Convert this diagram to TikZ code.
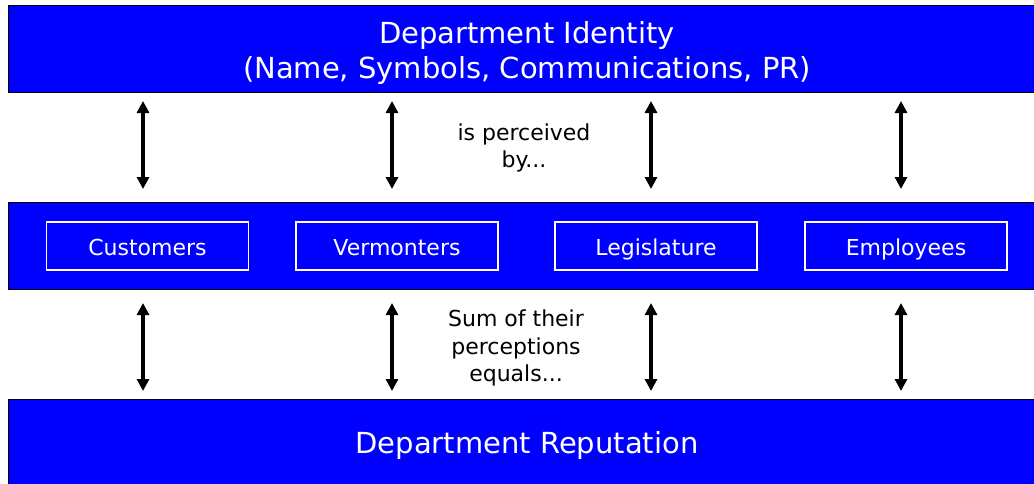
\documentclass[tikz,border=0pt]{standalone}
\usepackage{fontspec}
\setmainfont{DejaVu Sans}
\usetikzlibrary{arrows.meta}
\definecolor{barblue}{RGB}{0,0,255}
\tikzset{
  bar/.style={draw=black, line width=1pt, fill=barblue, anchor=north west,
    minimum width=1040pt, minimum height=87pt, inner sep=0pt},
  bartext/.style={text=white, align=center, font=\fontsize{29}{35}\selectfont},
  group/.style={draw=white, line width=1.2pt, minimum width=202pt,
    minimum height=48pt, inner sep=0pt, text=white, text height=22pt, text depth=4pt,
    font=\fontsize{22}{24}\selectfont},
  note/.style={align=center, text=black, font=\fontsize{22}{27.5}\selectfont},
  link/.style={line width=3.3pt, {Triangle[width=12pt,length=12pt]}-{Triangle[width=12pt,length=12pt]}}
}
\begin{document}
\begin{tikzpicture}[x=1pt,y=-1pt]
\useasboundingbox (0,0) rectangle (1034,483);
\fill[white] (0,0) rectangle (1034,483);

% three horizontal bands
\node[bar] (identity) at (8,5) {};
\node[bartext] (idtext) at (527,53) {Department Identity\\(Name, Symbols, Communications, PR)};
\node[bar] (audiences) at (8,202) {};
\node[bar, minimum height=92pt] (reputation) at (8,399) {};
\node[bartext] (reptext) at (527,445) {Department Reputation};

% audience groups
\node[group] (customers) at (147.5,246) {Customers};
\node[group] (vermonters) at (397,246) {Vermonters};
\node[group] (legislature) at (656,246) {Legislature};
\node[group] (employees) at (906,246) {Employees};

% connector labels
\node[note] (perceived) at (524,148) {is perceived\\by...};
\node[note] (sum) at (516,348) {Sum of their\\perceptions\\equals...};

% arrow end points and double-headed arrows
\foreach \n/\x in {a/143, b/392, c/651, d/901} {
  \coordinate (up\n) at (\x,101);
  \coordinate (mu\n) at (\x,189);
  \coordinate (ml\n) at (\x,303);
  \coordinate (lo\n) at (\x,391);
  \draw[link] (up\n) -- (mu\n);
  \draw[link] (ml\n) -- (lo\n);
}
\end{tikzpicture}
\end{document}
